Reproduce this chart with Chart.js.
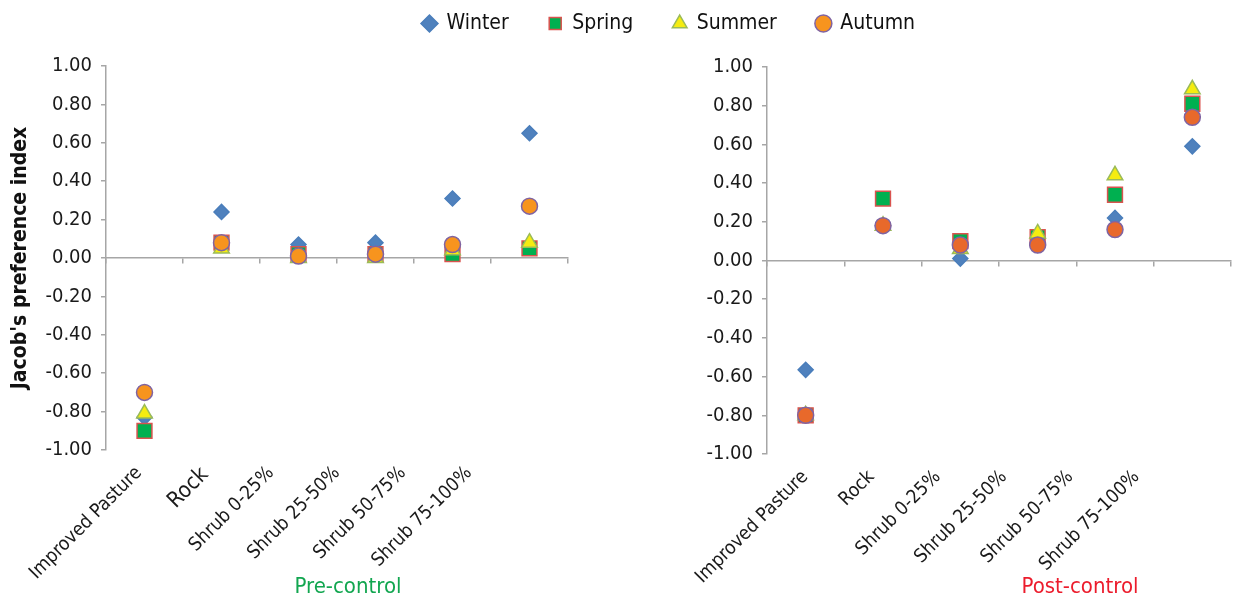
<!DOCTYPE html>
<html>
<head>
<meta charset="utf-8">
<script src="https://cdn.jsdelivr.net/npm/chart.js@4.4.1/dist/chart.umd.min.js"></script>
<style>
body { margin: 0; width: 1248px; height: 599px; background: #fff; position: relative; overflow: hidden; }
#preBox { position: absolute; left: 0; top: 45px; width: 620px; height: 554px; }
#postBox { position: absolute; left: 620px; top: 45px; width: 628px; height: 554px; }
#legendBox { position: absolute; left: 90px; top: -27px; width: 1158px; height: 200px; pointer-events: none; }
.panelTitle { position: absolute; top: 572px; width: 200px; text-align: center; font: 22px 'Liberation Sans Narrow', 'DejaVu Sans Condensed', sans-serif; line-height: 28px; }
</style>
</head>
<body>
<div id="preBox"><canvas id="preChart"></canvas></div>
<div id="postBox"><canvas id="postChart"></canvas></div>
<div id="legendBox"><canvas id="legendChart"></canvas></div>
<div class="panelTitle" style="left:248px;color:#12a650">Pre-control</div>
<div class="panelTitle" style="left:980px;color:#ec1c2c">Post-control</div>
<script>
var habitats = ["Improved Pasture", "Rock", "Shrub 0-25%", "Shrub 25-50%", "Shrub 50-75%", "Shrub 75-100%"];
var seasons = ["Winter", "Spring", "Summer", "Autumn"];

// Jacob's preference index, pre-control
var preWinter = [-0.83, 0.24, 0.07, 0.08, 0.31, 0.65];
var preSpring = [-0.90, 0.08, 0.02, 0.02, 0.02, 0.05];
var preSummer = [-0.81, 0.05, 0.00, 0.00, 0.04, 0.08];
var preAutumn = [-0.70, 0.08, 0.01, 0.02, 0.07, 0.27];

// post-control
var postWinter = [-0.565, 0.18, 0.01, 0.08, 0.22, 0.59];
var postSpring = [-0.80, 0.32, 0.10, 0.12, 0.34, 0.81];
var postSummer = [-0.80, 0.18, 0.06, 0.14, 0.44, 0.885];
var postAutumn = [-0.80, 0.18, 0.08, 0.08, 0.16, 0.74];

var yTicks = [-1, -0.8, -0.6, -0.4, -0.2, 0, 0.2, 0.4, 0.6, 0.8, 1];

var FONT = "'Liberation Sans Narrow', 'DejaVu Sans Condensed', 'Arial Narrow', sans-serif";
var axisGray = "#a6a6a6";

function seasonStyle(name, autumnFill) {
    if (name == "Winter") return { pointStyle: "rectRot", pointRadius: 7.5, backgroundColor: "#4f81bd", borderColor: "#4a7ebb", order: 3 };
    if (name == "Spring") return { pointStyle: "rect", pointRadius: 10.5, backgroundColor: "#00b050", borderColor: "#d9534f", order: 2 };
    if (name == "Summer") return { pointStyle: "triangle", pointRadius: 9, backgroundColor: "#f5ec10", borderColor: "#9bbb59", order: 1 };
    return { pointStyle: "circle", pointRadius: 8, backgroundColor: autumnFill, borderColor: "#8064a2", order: 0 };
}

function makeDatasets(series, autumnFill, xId) {
    var sets = [];
    for (var i = 0; i < seasons.length; i++) {
        var st = seasonStyle(seasons[i], autumnFill);
        var ds = {
            label: seasons[i],
            data: series[i],
            showLine: false,
            pointStyle: st.pointStyle,
            pointRadius: st.pointRadius,
            pointHoverRadius: st.pointRadius,
            pointBackgroundColor: st.backgroundColor,
            backgroundColor: st.backgroundColor,
            pointBorderColor: st.borderColor,
            borderColor: st.borderColor,
            pointBorderWidth: 1.5,
            order: st.order   // Autumn ends up on top, like Excel's series order
        };
        if (xId) ds.xAxisID = xId;
        sets.push(ds);
    }
    return sets;
}

function makePanel(id, series, autumnFill, opt) {
    new Chart(document.getElementById(id), {
        type: "line",
        data: { labels: habitats, datasets: makeDatasets(series, autumnFill, "xz") },
        options: {
            responsive: true,
            maintainAspectRatio: false,
            animation: false,
            layout: { padding: { top: opt.top, right: opt.right, left: 0, bottom: 0 } },
            plugins: { legend: { display: false }, tooltip: { enabled: false } },
            scales: {
                y: {
                    min: -1, max: 1,
                    afterBuildTicks: function (scale) { scale.ticks = yTicks.map(function (v) { return { value: v }; }); },
                    afterFit: function (scale) { scale.width = opt.yWidth; },
                    border: { display: true, color: axisGray, width: 1.5 },
                    grid: { drawOnChartArea: false, tickLength: 5, color: axisGray, lineWidth: 1.5 },
                    ticks: {
                        padding: 9,
                        color: "#1a1a1a",
                        font: { family: FONT, size: 20 },
                        callback: function (v) { return Math.abs(v) < 1e-9 ? "0.00" : Number(v).toFixed(2); }
                    },
                    title: {
                        display: opt.yTitle != "",
                        text: opt.yTitle,
                        color: "#111",
                        font: { family: FONT, size: 21, weight: "bold" },
                        padding: { top: 8, bottom: 0 }
                    }
                },
                // label axis: Excel squeezes the slanted labels, so it gets one spare blank slot
                x: {
                    type: "category",
                    labels: habitats.concat([""]),
                    offset: true,
                    afterFit: function (scale) { scale.height = opt.xHeight; },
                    border: { display: false },
                    grid: { display: false, drawTicks: false },
                    ticks: {
                        autoSkip: false,
                        maxRotation: 45, minRotation: 45,
                        padding: 12,
                        labelOffset: opt.labelShift,
                        color: "#1a1a1a",
                        font: function (ctx) { return { family: FONT, size: ctx.index == 1 ? opt.rockSize : 19 }; }
                    }
                },
                xz: {
                    type: "category",
                    axis: "x",
                    position: { y: 0 },
                    offset: true,
                    border: { display: true, color: axisGray, width: 1.5 },
                    grid: { drawOnChartArea: false, offset: true, tickLength: 5, color: axisGray, lineWidth: 1.5 },
                    ticks: { display: false }
                }
            }
        }
    });
}

makePanel("preChart", [preWinter, preSpring, preSummer, preAutumn], "#f7941e", {
    top: 19, right: 52, yWidth: 106, xHeight: 149, yTitle: "Jacob's preference index",
    rockSize: 22, labelShift: 0
});

makePanel("postChart", [postWinter, postSpring, postSummer, postAutumn], "#e8692b", {
    top: 22, right: 17, yWidth: 147, xHeight: 145, yTitle: "",
    rockSize: 19, labelShift: 5
});

// legend-only chart across the top
new Chart(document.getElementById("legendChart"), {
    type: "line",
    data: { labels: [], datasets: makeDatasets([[], [], [], []], "#f7941e", null) },
    options: {
        responsive: true,
        maintainAspectRatio: false,
        animation: false,
        plugins: {
            tooltip: { enabled: false },
            legend: {
                display: true,
                position: "top",
                labels: {
                    usePointStyle: true,
                    boxWidth: 13,
                    boxHeight: 12,
                    padding: 40,
                    color: "#111",
                    font: { family: FONT, size: 21 },
                    sort: function (a, b) { return a.datasetIndex - b.datasetIndex; }
                }
            }
        },
        scales: { x: { display: false }, y: { display: false } }
    }
});
</script>
</body>
</html>
